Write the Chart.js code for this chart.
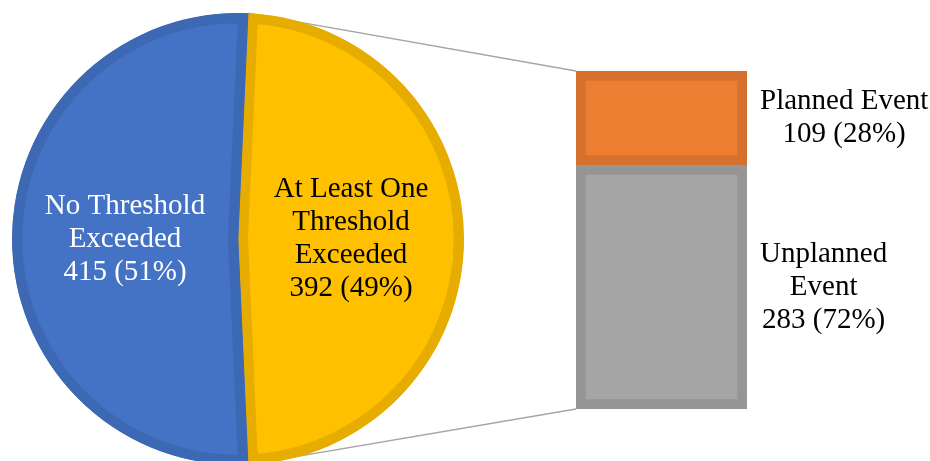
<!DOCTYPE html>
<html>
<head>
<meta charset="utf-8">
<script src="https://cdn.jsdelivr.net/npm/chart.js@4.4.1/dist/chart.umd.min.js"></script>
<style>
  html, body { margin: 0; padding: 0; background: #fff; overflow: hidden; }
  #wrap { position: relative; width: 930px; height: 461px; overflow: hidden; }
  #bars { position: absolute; left: 0; top: 0; }
  #pie { position: absolute; left: 12px; top: 13px; }
</style>
</head>
<body>
<div id="wrap">
  <canvas id="bars" width="930" height="461"></canvas>
  <canvas id="pie" width="452" height="452"></canvas>
</div>
<script>
// pie: first slice is the one broken out into the bar on the right
const pieLabels = [["At Least One", "Threshold", "Exceeded"], ["No Threshold", "Exceeded"]];
const pieValues = [392, 415];
const pieColors = ["#FFC000", "#4472C4"];
const pieBorders = ["#E6AD00", "#3D68B4"];
const pieTextColors = ["#000000", "#FFFFFF"];

// breakdown bar, bottom to top
const barLabels = [["Unplanned", "Event"], ["Planned Event"]];
const barValues = [283, 109];
const barColors = ["#A5A5A5", "#ED7D31"];
const barBorders = ["#959595", "#D5712C"];

const FONT = '29px "Liberation Serif", "Times New Roman", serif';
const LINE_H = 33;

const sum = (arr) => arr.reduce((a, b) => a + b, 0);
const pct = (v, arr) => Math.round((v / sum(arr)) * 100);

function drawBlock(ctx, lines, cx, cy, color) {
  ctx.save();
  ctx.font = FONT;
  ctx.fillStyle = color;
  ctx.textAlign = "center";
  ctx.textBaseline = "middle";
  const top = cy - ((lines.length - 1) * LINE_H) / 2;
  lines.forEach((t, i) => ctx.fillText(t, cx, top + i * LINE_H));
  ctx.restore();
}

const pieText = {
  id: "pieText",
  afterDatasetsDraw(chart) {
    const ctx = chart.ctx;
    chart.getDatasetMeta(0).data.forEach((arc, i) => {
      const p = arc.tooltipPosition(true);
      const lines = [...pieLabels[i], `${pieValues[i]} (${pct(pieValues[i], pieValues)}%)`];
      drawBlock(ctx, lines, p.x, p.y, pieTextColors[i]);
    });
  },
};

const pieChart = new Chart(document.getElementById("pie"), {
  type: "pie",
  data: {
    labels: pieLabels.map((l) => l.join(" ")),
    datasets: [{
      data: pieValues,
      backgroundColor: pieColors,
      borderColor: pieBorders,
      borderWidth: 10,
      borderAlign: "inner",
    }],
  },
  options: {
    responsive: false,
    animation: false,
    events: [],
    // broken-out slice centred on the right-hand side
    rotation: 90 - (pieValues[0] / sum(pieValues)) * 180,
    plugins: { legend: { display: false }, tooltip: { enabled: false } },
  },
  plugins: [pieText],
});

// lines from the split slice's edges to the corners of the bar
const connectors = {
  id: "connectors",
  beforeDatasetsDraw(chart) {
    const arc = pieChart.getDatasetMeta(0).data[0];
    const a = arc.getProps(["x", "y", "startAngle", "endAngle", "outerRadius"], true);
    const ox = pieChart.canvas.offsetLeft - chart.canvas.offsetLeft;
    const oy = pieChart.canvas.offsetTop - chart.canvas.offsetTop;
    const topBar = chart.getDatasetMeta(barValues.length - 1).data[0];
    const botBar = chart.getDatasetMeta(0).data[0];
    const ctx = chart.ctx;
    ctx.save();
    ctx.strokeStyle = "#A5A5A5";
    ctx.lineWidth = 1.3;
    ctx.beginPath();
    ctx.moveTo(ox + a.x + a.outerRadius * Math.cos(a.startAngle), oy + a.y + a.outerRadius * Math.sin(a.startAngle));
    ctx.lineTo(topBar.x - topBar.width / 2, topBar.y);
    ctx.moveTo(ox + a.x + a.outerRadius * Math.cos(a.endAngle), oy + a.y + a.outerRadius * Math.sin(a.endAngle));
    ctx.lineTo(botBar.x - botBar.width / 2, botBar.base);
    ctx.stroke();
    ctx.restore();
  },
};

const barText = {
  id: "barText",
  afterDatasetsDraw(chart) {
    const ctx = chart.ctx;
    barValues.forEach((v, i) => {
      const bar = chart.getDatasetMeta(i).data[0];
      const lines = [...barLabels[i], `${v} (${pct(v, barValues)}%)`];
      ctx.save();
      ctx.font = FONT;
      const w = Math.max(...lines.map((t) => ctx.measureText(t).width));
      ctx.restore();
      const left = bar.x + bar.width / 2 + 13;
      drawBlock(ctx, lines, left + w / 2, (bar.y + bar.base) / 2, "#000000");
    });
  },
};

new Chart(document.getElementById("bars"), {
  type: "bar",
  data: {
    labels: [""],
    datasets: barValues.map((v, i) => ({
      label: barLabels[i].join(" "),
      data: [v],
      backgroundColor: barColors[i],
      borderColor: barBorders[i],
      borderWidth: 10,
      borderSkipped: false,
      barPercentage: 1,
      categoryPercentage: 1,
    })),
  },
  options: {
    responsive: false,
    animation: false,
    events: [],
    layout: { padding: { left: 576, right: 183, top: 71, bottom: 52 } },
    scales: {
      x: { display: false, stacked: true },
      y: { display: false, stacked: true, min: 0, max: sum(barValues) },
    },
    plugins: { legend: { display: false }, tooltip: { enabled: false } },
  },
  plugins: [connectors, barText],
});
</script>
</body>
</html>
